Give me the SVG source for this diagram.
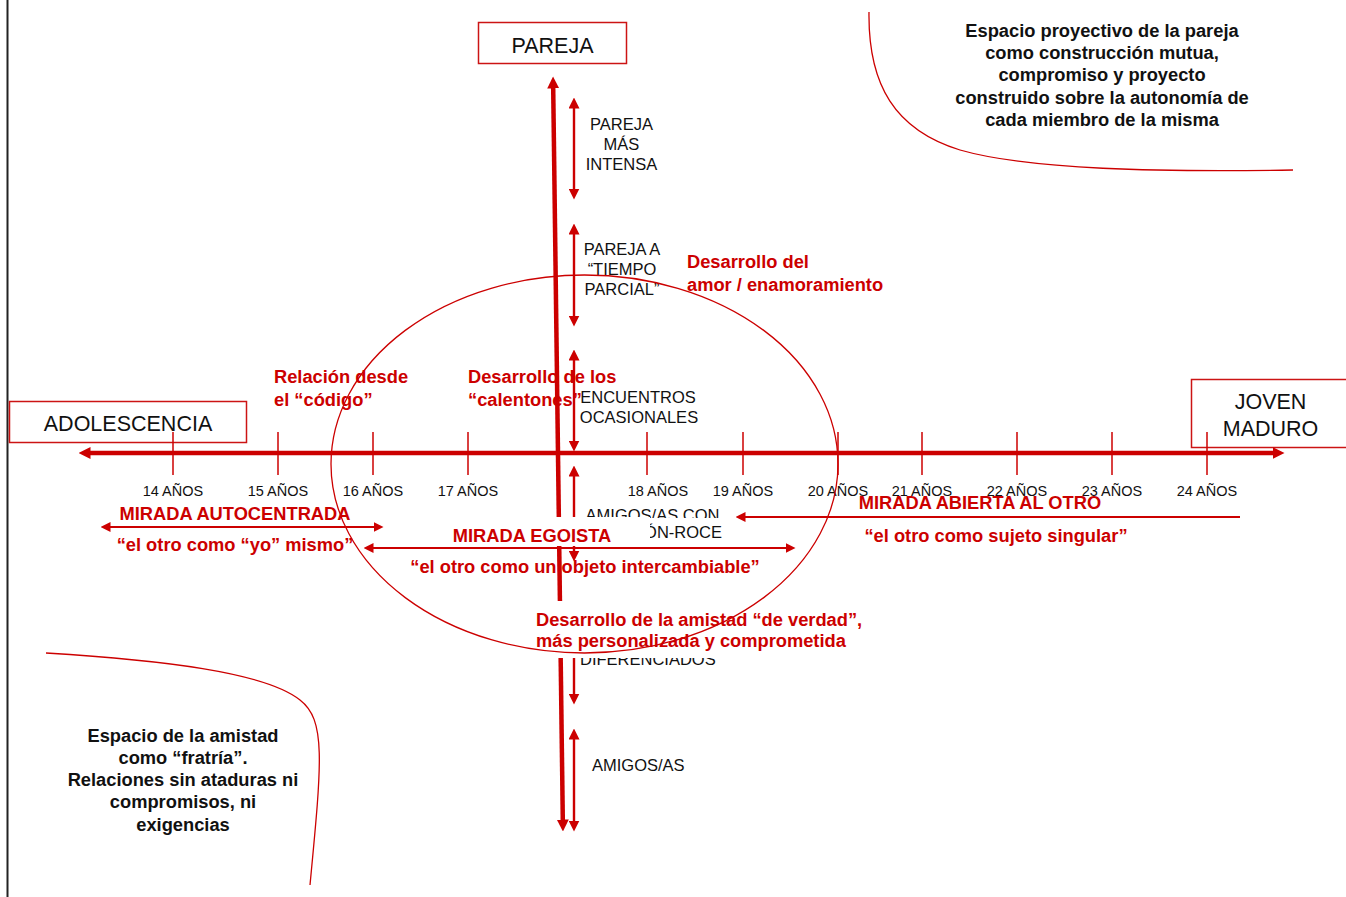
<svg xmlns="http://www.w3.org/2000/svg" width="1346" height="897" viewBox="0 0 1346 897">
  <defs>
    <style>
      text { font-family: "Liberation Sans", Arial, sans-serif; }
      .lbl { font-size: 16.5px; fill: #111; }
      .mid { text-anchor: middle; }
      .age { font-size: 14.5px; fill: #111; text-anchor: middle; }
      .box { fill: none; stroke: #cc1414; stroke-width: 1.5; }
      .boxt { font-size: 21.5px; fill: #111; text-anchor: middle; }
      .red { font-size: 18.3px; font-weight: bold; fill: #cc0000; }
      .blk { font-size: 18.3px; font-weight: bold; fill: #111; text-anchor: middle; }
      .axis { stroke: #cc0000; stroke-width: 4.5; fill: none; }
      .sub { stroke: #cc0000; stroke-width: 2.4; fill: none; }
      .thin { stroke: #cc0000; stroke-width: 2; fill: none; }
      .tick { stroke: #cc0000; stroke-width: 1.5; }
      .curve { fill: none; stroke: #cc0000; stroke-width: 1.3; }
      .mask { fill: #fff; stroke: none; }
    </style>
    <marker id="headL" viewBox="0 0 12 12" refX="0.5" refY="6" markerWidth="12" markerHeight="12" markerUnits="userSpaceOnUse" orient="auto-start-reverse">
      <path d="M0,0 L12,6 L0,12 Z" fill="#cc0000"/>
    </marker>
    <marker id="headM" viewBox="0 0 11 11" refX="0.5" refY="5.5" markerWidth="11" markerHeight="11" markerUnits="userSpaceOnUse" orient="auto-start-reverse">
      <path d="M0,0 L11,5.5 L0,11 Z" fill="#cc0000"/>
    </marker>
    <marker id="headS" viewBox="0 0 10 10" refX="0.5" refY="5" markerWidth="10" markerHeight="10" markerUnits="userSpaceOnUse" orient="auto-start-reverse">
      <path d="M0,0 L10,5 L0,10 Z" fill="#cc0000"/>
    </marker>
    <clipPath id="clipAmigosTop"><rect x="560" y="490" width="200" height="28"/></clipPath>
    <clipPath id="clipRoce"><rect x="648" y="520" width="120" height="30"/></clipPath>
    <clipPath id="clipDif"><rect x="560" y="658" width="200" height="20"/></clipPath>
  </defs>

  <!-- page margin rule -->
  <line x1="7.5" y1="0" x2="7.5" y2="897" stroke="#222" stroke-width="2"/>

  <!-- quadrant boundaries -->
  <g id="space-curves">
    <path class="curve" d="M869,12 C868,85 895,130 960,150 C1030,170 1160,172 1293,170"/>
    <path class="curve" d="M46,653 C160,660 265,672 300,700 C326,720 322,760 310,885"/>
  </g>

  <!-- quadrant descriptions -->
  <g id="pareja-space">
    <text class="blk" x="1102" y="37">Espacio proyectivo de la pareja</text>
    <text class="blk" x="1102" y="59">como construcción mutua,</text>
    <text class="blk" x="1102" y="81">compromiso y proyecto</text>
    <text class="blk" x="1102" y="104">construido sobre la autonomía de</text>
    <text class="blk" x="1102" y="126">cada miembro de la misma</text>
  </g>
  <g id="amistad-space">
    <text class="blk" x="183" y="742">Espacio de la amistad</text>
    <text class="blk" x="183" y="764">como “fratría”.</text>
    <text class="blk" x="183" y="786">Relaciones sin ataduras ni</text>
    <text class="blk" x="183" y="808">compromisos, ni</text>
    <text class="blk" x="183" y="831">exigencias</text>
  </g>

  <!-- pole boxes -->
  <g id="pareja">
    <rect class="box" x="478.5" y="22.5" width="148" height="41"/>
    <text class="boxt" x="552.5" y="53">PAREJA</text>
  </g>
  <g id="adolescencia">
    <rect class="box" x="9.5" y="401.5" width="237" height="41"/>
    <text class="boxt" x="128" y="431">ADOLESCENCIA</text>
  </g>
  <g id="joven-maduro">
    <rect class="box" x="1191.5" y="379.5" width="160" height="68"/>
    <text class="boxt" x="1270.5" y="409">JOVEN</text>
    <text class="boxt" x="1270.5" y="436">MADURO</text>
  </g>

  <!-- stages along the vertical axis -->
  <g id="pareja-intensa">
    <text class="lbl mid" x="621.5" y="130">PAREJA</text>
    <text class="lbl mid" x="621.5" y="150">MÁS</text>
    <text class="lbl mid" x="621.5" y="170">INTENSA</text>
  </g>
  <g id="pareja-tiempo-parcial">
    <text class="lbl mid" x="622" y="255">PAREJA A</text>
    <text class="lbl mid" x="622" y="275">“TIEMPO</text>
    <text class="lbl mid" x="622" y="295">PARCIAL”</text>
  </g>
  <g id="encuentros">
    <text class="lbl mid" x="638" y="403">ENCUENTROS</text>
    <text class="lbl mid" x="639" y="423">OCASIONALES</text>
  </g>
  <g id="amigos-roce">
    <text class="lbl mid" x="652.5" y="521" clip-path="url(#clipAmigosTop)">AMIGOS/AS CON</text>
    <text class="lbl" x="722" y="538" text-anchor="end" clip-path="url(#clipRoce)">ÓN-ROCE</text>
  </g>
  <g id="diferenciados">
    <text class="lbl" x="580" y="665" clip-path="url(#clipDif)">DIFERENCIADOS</text>
  </g>
  <g id="amigos">
    <text class="lbl" x="592" y="771">AMIGOS/AS</text>
  </g>

  <!-- red annotations -->
  <g id="amor">
    <text class="red" x="687" y="268">Desarrollo del</text>
    <text class="red" x="687" y="291">amor / enamoramiento</text>
  </g>
  <g id="codigo">
    <text class="red" x="274" y="383">Relación desde</text>
    <text class="red" x="274" y="406">el “código”</text>
  </g>
  <g id="calentones">
    <text class="red" x="468" y="383">Desarrollo de los</text>
    <text class="red" x="468" y="406">“calentones”</text>
  </g>
  <g id="autocentrada">
    <text class="red mid" x="235" y="520">MIRADA AUTOCENTRADA</text>
    <text class="red mid" x="235" y="551">“el otro como “yo” mismo”</text>
  </g>
  <g id="intercambiable">
    <text class="red mid" x="585" y="573">“el otro como un objeto intercambiable”</text>
  </g>
  <g id="abierta">
    <text class="red mid" x="980" y="509">MIRADA ABIERTA AL OTRO</text>
    <text class="red mid" x="996" y="542">“el otro como sujeto singular”</text>
  </g>

  <!-- age scale -->
  <g id="ages">
    <text class="age" x="173" y="496">14 AÑOS</text>
    <text class="age" x="278" y="496">15 AÑOS</text>
    <text class="age" x="373" y="496">16 AÑOS</text>
    <text class="age" x="468" y="496">17 AÑOS</text>
    <text class="age" x="658" y="496">18 AÑOS</text>
    <text class="age" x="743" y="496">19 AÑOS</text>
    <text class="age" x="838" y="496">20 AÑOS</text>
    <text class="age" x="922" y="496">21 AÑOS</text>
    <text class="age" x="1017" y="496">22 AÑOS</text>
    <text class="age" x="1112" y="496">23 AÑOS</text>
    <text class="age" x="1207" y="496">24 AÑOS</text>
  </g>

  <!-- axes, ticks and range arrows -->
  <g id="connectors">
    <line class="axis" x1="90" y1="453" x2="1273" y2="453" marker-start="url(#headL)" marker-end="url(#headL)"/>
    <line class="axis" x1="553.2" y1="88" x2="562.8" y2="820" marker-start="url(#headL)" marker-end="url(#headL)"/>

    <g class="tick">
      <line x1="173" y1="432" x2="173" y2="475"/>
      <line x1="278" y1="432" x2="278" y2="475"/>
      <line x1="373" y1="432" x2="373" y2="475"/>
      <line x1="468" y1="432" x2="468" y2="475"/>
      <line x1="647" y1="432" x2="647" y2="475"/>
      <line x1="743" y1="432" x2="743" y2="475"/>
      <line x1="838" y1="432" x2="838" y2="475"/>
      <line x1="922" y1="432" x2="922" y2="475"/>
      <line x1="1017" y1="432" x2="1017" y2="475"/>
      <line x1="1112" y1="432" x2="1112" y2="475"/>
      <line x1="1207" y1="432" x2="1207" y2="475"/>
    </g>

    <line class="sub" x1="574" y1="108" x2="574" y2="189" marker-start="url(#headM)" marker-end="url(#headM)"/>
    <line class="sub" x1="574" y1="234" x2="574" y2="316" marker-start="url(#headM)" marker-end="url(#headM)"/>
    <line class="sub" x1="574" y1="360" x2="574" y2="441" marker-start="url(#headM)" marker-end="url(#headM)"/>
    <line class="sub" x1="574" y1="476" x2="574" y2="551" marker-start="url(#headM)" marker-end="url(#headM)"/>
    <line class="sub" x1="574" y1="616" x2="574" y2="694" marker-start="url(#headM)" marker-end="url(#headM)"/>
    <line class="sub" x1="574" y1="739" x2="574" y2="821" marker-start="url(#headM)" marker-end="url(#headM)"/>

    <line class="thin" x1="110" y1="527" x2="374" y2="527" marker-start="url(#headS)" marker-end="url(#headS)"/>
    <line class="thin" x1="373" y1="548" x2="786" y2="548" marker-start="url(#headS)" marker-end="url(#headS)"/>
    <line class="thin" x1="1240" y1="517" x2="745" y2="517" marker-end="url(#headS)"/>
  </g>

  <!-- labels with opaque backgrounds -->
  <g id="egoista">
    <rect class="mask" x="416" y="517" width="234" height="29"/>
    <text class="red mid" x="532" y="542">MIRADA EGOISTA</text>
  </g>
  <g id="amistad-verdad">
    <rect class="mask" x="530" y="601" width="340" height="57"/>
    <text class="red" x="536" y="626">Desarrollo de la amistad “de verdad”,</text>
    <text class="red" x="536" y="647">más personalizada y comprometida</text>
  </g>

  <!-- transition zone -->
  <g id="transition-zone">
    <ellipse class="curve" cx="584.5" cy="464" rx="253.5" ry="189"/>
  </g>
</svg>
